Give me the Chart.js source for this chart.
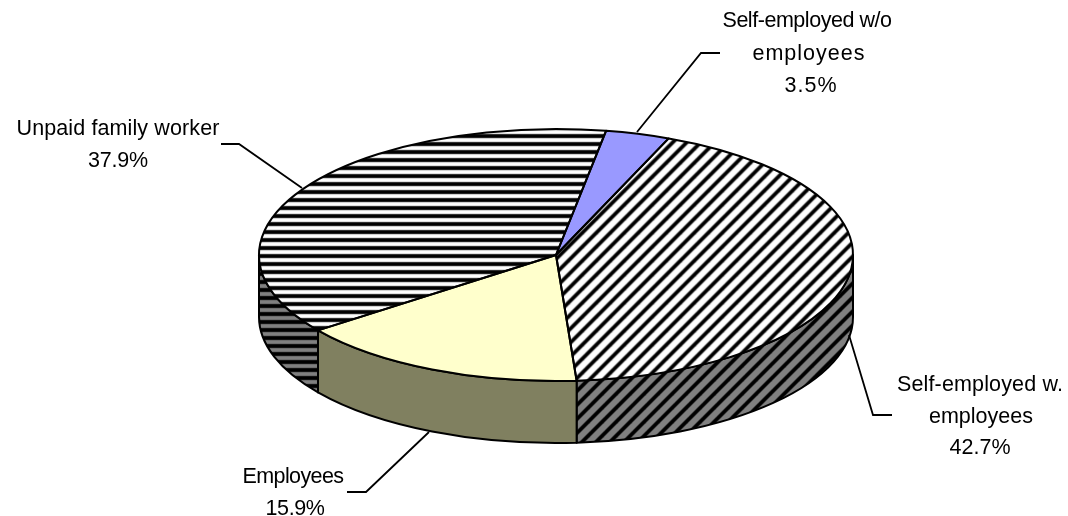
<!DOCTYPE html>
<html><head><meta charset="utf-8">
<style>html,body{margin:0;padding:0;background:#fff}canvas{display:block}</style>
<script src="https://cdn.jsdelivr.net/npm/chart.js@4"></script>
</head><body><canvas id="c" width="1068" height="516"></canvas>
<script>
const categories = [['Self-employed w/o','employees'],['Self-employed w.','employees'],['Employees'],['Unpaid family worker']];
const shares = [3.5, 42.7, 15.9, 37.9];
const labelCenters = [[807,809,811],[980,981,980],[293,295],[118,118]];
const labelBaselines = [[27,60,92],[391,423,454],[483,515],[135,167]];
const labelWidths = [[169,113,53],[166,104,61],[101,59],[203,60]];
const leaders = [[[637,132],[701,53],[720,53]],[[849,335],[873,415],[892,415]],[[429,432],[366,492],[347,492]],[[302,188],[239,144],[221,144]]];
const RX = 297, RY = 126, DEPTH = 62, K = RY / RX;

function stripes(kind, bg, period, w, m) {
  const t = document.createElement('canvas');
  t.width = period; t.height = period;
  const g = t.getContext('2d');
  g.fillStyle = bg; g.fillRect(0,0,period,period);
  g.strokeStyle = '#000';
  [[w+1.8,0.35],[w+0.8,0.6],[w,1]].forEach(([lw,alpha])=>{
    g.lineWidth = lw; g.globalAlpha = alpha;
    if (kind === 'h') {
      g.beginPath(); g.moveTo(-4,period/2); g.lineTo(period+4,period/2); g.stroke();
    } else {
      for (let o = -period; o <= period; o += period) {
        g.beginPath(); g.moveTo(o - 4, period + 4); g.lineTo(o + period + 4, -4); g.stroke();
      }
    }
  });
  const p = g.createPattern(t,'repeat');
  p.setTransform(m);
  return p;
}
const ctx0 = document.getElementById('c').getContext('2d');
const tops = [
  '#9999FF',
  stripes('d','#fff',14,2.8,new DOMMatrix().scale(1,1/K).translate(10.2,0)),
  '#FFFFCC',
  stripes('h','#fff',8,3,new DOMMatrix().scale(1,1/K).translate(0,1.2))
];
const walls = [
  '#4C4C80',
  stripes('d','#808080',14,2.8,new DOMMatrix().translate(2,0)),
  '#808060',
  stripes('h','#808080',8,3,new DOMMatrix().translate(0,-2))
];

const pie3d = {
  id:'pie3d',
  beforeDatasetsDraw(chart){
    const ctx = chart.ctx, arcs = chart.getDatasetMeta(0).data;
    const cx = arcs[0].x, cy = arcs[0].y;
    arcs.forEach((a,i)=>{
      let s = a.startAngle, e = a.endAngle;
      const cuts = [[0,Math.PI],[2*Math.PI,3*Math.PI]];
      cuts.forEach(([lo,hi])=>{
        const b0 = Math.max(s,lo), b1 = Math.min(e,hi);
        if (b1 <= b0) return;
        ctx.beginPath();
        ctx.ellipse(cx,cy,RX,RY,0,b0,b1);
        ctx.ellipse(cx,cy+DEPTH,RX,RY,0,b1,b0,true);
        ctx.closePath();
        ctx.fillStyle = walls[i]; ctx.fill();
        ctx.lineWidth = 2; ctx.strokeStyle = '#000'; ctx.lineJoin='round'; ctx.stroke();
      });
    });
    ctx.save();
    ctx.translate(cx,cy); ctx.scale(1,K); ctx.translate(-cx,-cy);
  },
  afterDatasetsDraw(chart){
    const ctx = chart.ctx, arcs = chart.getDatasetMeta(0).data;
    ctx.restore();
    const cx = arcs[0].x, cy = arcs[0].y;
    ctx.lineWidth = 2; ctx.strokeStyle = '#000'; ctx.lineJoin='round';
    arcs.forEach(a=>{
      ctx.beginPath();
      ctx.moveTo(cx,cy);
      ctx.ellipse(cx,cy,RX,RY,0,a.startAngle,a.endAngle);
      ctx.closePath();
      ctx.stroke();
    });
  },
  afterDraw(chart){
    const ctx = chart.ctx;
    ctx.save();
    ctx.lineWidth = 1.8; ctx.strokeStyle = '#000'; ctx.lineJoin='miter';
    leaders.forEach(pts=>{
      ctx.beginPath();
      pts.forEach((p,i)=> i ? ctx.lineTo(p[0],p[1]) : ctx.moveTo(p[0],p[1]));
      ctx.stroke();
    });
    ctx.fillStyle = '#000'; ctx.textAlign='center'; ctx.textBaseline='alphabetic';
    ctx.font = '21.5px "Liberation Sans", Arial, sans-serif';
    categories.forEach((lines,i)=>{
      const all = lines.concat(shares[i].toFixed(1)+'%');
      all.forEach((t,j)=>{
        ctx.letterSpacing = '0px';
        const natural = ctx.measureText(t).width;
        ctx.letterSpacing = ((labelWidths[i][j]-natural)/t.length).toFixed(3)+'px';
        ctx.fillText(t,labelCenters[i][j],labelBaselines[i][j]);
      });
    });
    ctx.restore();
  }
};

new Chart(ctx0,{
  type:'pie',
  data:{labels:categories.map(l=>l.join(' ')),datasets:[{data:shares,backgroundColor:tops,borderWidth:0}]},
  options:{
    responsive:false,animation:false,
    rotation:9.7,radius:RX,
    layout:{padding:{left:44,right:0,top:0,bottom:6}},
    plugins:{legend:{display:false},tooltip:{enabled:false}}
  },
  plugins:[pie3d]
});
</script></body></html>
